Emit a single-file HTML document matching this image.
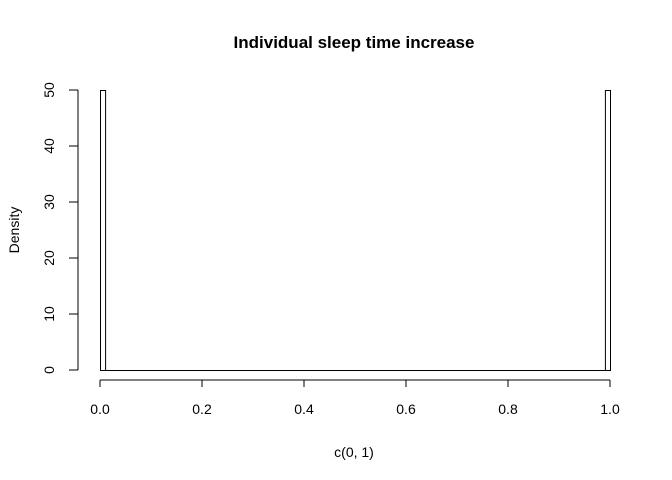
<!DOCTYPE html>
<html><head><meta charset="utf-8"><style>body{margin:0;background:#fff}svg{display:block;font-family:"Liberation Sans",Arial,sans-serif}</style></head>
<body>
<svg id="c" width="672" height="480">
<text x="354" y="48" text-anchor="middle" font-weight="bold" font-size="17">Individual sleep time increase</text>
<text x="354" y="457" text-anchor="middle" font-size="14">c(0, 1)</text>
<text transform="translate(19,230) rotate(-90)" text-anchor="middle" font-size="14">Density</text>
<g id="axes" stroke="#000" fill="none"></g>
<g id="bars" stroke="#000" fill="none"></g>
</svg>
<script>
const binStarts=[0,0.99];
const densities=[50,50];
const binWidth=0.01;
const xTicks=[0,0.2,0.4,0.6,0.8,1.0];
const xTickLabels=["0.0","0.2","0.4","0.6","0.8","1.0"];
const yTicks=[0,10,20,30,40,50];
const NS="http://www.w3.org/2000/svg";
const X=v=>100+v*510, Y=v=>370-v*5.6;
const ax=document.getElementById('axes'), bg=document.getElementById('bars'), svg=document.getElementById('c');
function mk(t,a,p){const e=document.createElementNS(NS,t);for(const k in a)e.setAttribute(k,a[k]);p.appendChild(e);return e;}
let l=mk('line',{x1:X(0),x2:X(1),y1:380,y2:380},ax);


xTicks.forEach((v,i)=>{const t=mk('line',{x1:X(v),x2:X(v),y1:380,y2:387},ax);


const s=mk('text',{x:X(v),y:414,'text-anchor':'middle','font-size':14,fill:'#000',stroke:'none'},svg);s.textContent=xTickLabels[i];

});
l=mk('line',{x1:78,x2:78,y1:Y(0),y2:Y(50)},ax);


yTicks.forEach(v=>{const t=mk('line',{x1:69,x2:78,y1:Y(v),y2:Y(v)},ax);


const s=mk('text',{transform:`translate(54,${Y(v)}) rotate(-90)`,'text-anchor':'middle','font-size':14,fill:'#000',stroke:'none'},svg);s.textContent=v;

});
const b=mk('line',{x1:X(0),x2:X(1),y1:Y(0)+0.5,y2:Y(0)+0.5},bg);


binStarts.forEach((s,i)=>{const r=mk('rect',{x:X(s)+0.5,y:Y(densities[i])+0.5,width:X(s+binWidth)-X(s),height:Y(0)-Y(densities[i])},bg);

});
</script>
</body></html>
